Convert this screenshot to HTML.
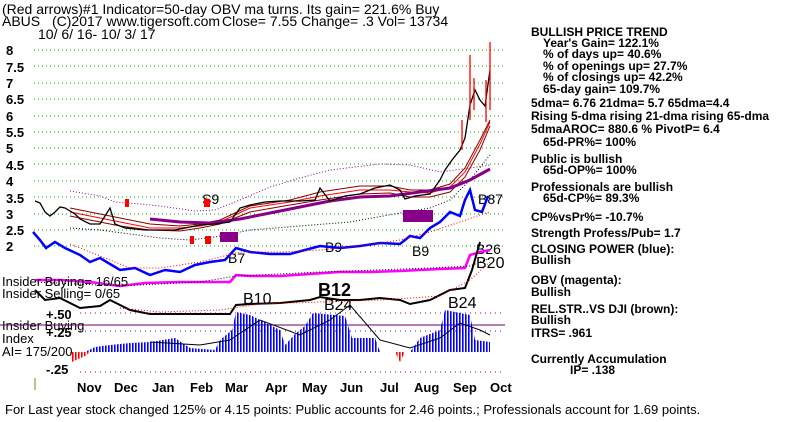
<!DOCTYPE html>
<html><head><meta charset="utf-8"><style>
body{margin:0;background:#fff;width:800px;height:417px;overflow:hidden}
svg text{font-family:"Liberation Sans",sans-serif;font-weight:bold}
</style></head><body>
<svg width="800" height="417" viewBox="0 0 800 417" xmlns="http://www.w3.org/2000/svg">
<defs><pattern id="st" width="3" height="10" patternUnits="userSpaceOnUse"><rect width="1.6" height="10" fill="#00f"/></pattern>
<pattern id="sr" width="3" height="10" patternUnits="userSpaceOnUse"><rect width="1.6" height="10" fill="#f00"/></pattern></defs>
<rect width="800" height="417" fill="#fff"/>
<g font-size="14" fill="#000">
<text x="2" y="14" style="font-weight:normal">(Red arrows)#1 Indicator=50-day OBV ma turns. Its gain= 221.6% Buy</text>
<text x="2" y="26" style="font-weight:normal">ABUS</text>
<text x="52" y="26" style="font-weight:normal">(C)2017 www.tigersoft.com</text>
<text x="222" y="26" style="font-weight:normal">Close=  7.55  Change= .3 Vol= 13734</text>
<text x="38" y="39" style="font-weight:normal">10/ 6/ 16- 10/ 3/ 17</text>
</g>
<g stroke="#0a0" stroke-dasharray="1,3" stroke-width="1">
<line x1="34" x2="505" y1="50" y2="50"/><line x1="34" x2="505" y1="66" y2="66"/><line x1="34" x2="505" y1="83" y2="83"/><line x1="34" x2="505" y1="99" y2="99"/><line x1="34" x2="505" y1="116" y2="116"/><line x1="34" x2="505" y1="132" y2="132"/><line x1="34" x2="505" y1="148" y2="148"/><line x1="34" x2="505" y1="164" y2="164"/><line x1="34" x2="505" y1="181" y2="181"/><line x1="34" x2="505" y1="197" y2="197"/><line x1="34" x2="505" y1="214" y2="214"/><line x1="34" x2="505" y1="230" y2="230"/><line x1="34" x2="505" y1="246" y2="246"/>
</g>
<g font-size="13" fill="#000">
<text x="6" y="55">8</text><text x="6" y="72">7.5</text><text x="6" y="88">7</text><text x="6" y="104">6.5</text><text x="6" y="121">6</text><text x="6" y="137">5.5</text><text x="6" y="153">5</text><text x="6" y="170">4.5</text><text x="6" y="186">4</text><text x="6" y="203">3.5</text><text x="6" y="219">3</text><text x="6" y="235">2.5</text><text x="6" y="251">2</text>
</g>
<polyline fill="none" stroke="#808" stroke-dasharray="1,2" points="70,191 100,196 115,202 140,204 160,206 195,211 215,210 240,200 270,187 300,178 330,170 380,164 410,165 440,172 470,168 490,165"/>
<polyline fill="none" stroke="#000" stroke-dasharray="1,2" points="70,228 100,230 130,234 160,238 190,240 215,237 250,230 300,226 350,222 400,213 430,208 450,200 470,180 490,155"/>
<polyline fill="none" stroke="#800" points="70,208 100,214 120,218 150,224 180,226 200,224 220,220 250,206 290,200 320,192 360,186 390,186 410,190 430,190 450,184 465,168 480,140 490,120"/>
<polyline fill="none" stroke="#f00" points="70,212 100,218 120,222 150,228 180,228 200,226 220,222 250,208 290,202 320,196 360,190 390,190 410,192 430,193 450,187 465,172 480,144 490,122"/>
<polyline fill="none" stroke="#800" points="70,216 100,222 120,226 150,230 180,231 200,228 220,224 250,212 290,205 320,200 360,194 390,193 410,197 430,197 450,192 465,177 480,150 490,126"/>
<polyline fill="none" stroke="#808" stroke-width="3" points="150,219 180,222 210,223 240,219 270,213 300,207 330,201 360,197 390,196 420,192 450,188 470,180 490,169"/>
<polyline fill="none" stroke="#000" stroke-width="1.3" points="35,201 40,203 45,212 50,216 55,212 60,207 65,208 70,211 75,214 80,219 90,224 100,224 110,208 115,224 125,228 135,229 145,230 160,230 175,230 190,227 200,225 215,224 230,222 240,208 250,205 265,202 280,201 300,201 315,200 320,188 330,201 345,196 360,194 375,188 390,185 400,190 405,199 415,196 430,194 440,180 445,170 452,160 460,150 465,138 470,105 475,90 480,100 485,106 490,70"/>
<g stroke="#f00" stroke-width="1.3"><line x1="470" y1="55" x2="470" y2="120"/><line x1="474" y1="78" x2="474" y2="110"/><line x1="490" y1="42" x2="490" y2="110"/><line x1="462" y1="120" x2="462" y2="150"/><line x1="486" y1="80" x2="486" y2="122"/></g>
<g font-size="14" fill="#000">
<text x="202" y="204" style="font-weight:normal">S9</text><text x="478" y="204" style="font-weight:normal">B87</text>
<text x="325" y="252" style="font-weight:normal">B9</text><text x="412" y="256" style="font-weight:normal">B9</text>
<text x="228" y="263" style="font-weight:normal">B7</text><text x="476" y="254" style="font-weight:normal">B26</text>
<text x="476" y="268" font-size="16" style="font-weight:normal">B20</text>
<text x="243" y="304" font-size="16" style="font-weight:normal">B10</text>
<text x="318" y="296" font-size="18">B12</text>
<text x="324" y="310" font-size="16" style="font-weight:normal">B24</text>
<text x="448" y="308" font-size="16" style="font-weight:normal">B24</text>
</g>
<g fill="#f00"><rect x="190" y="236" width="4" height="8"/><rect x="205" y="236" width="6" height="8"/><rect x="204" y="199" width="6" height="8"/><rect x="125" y="199" width="4" height="8"/></g>
<g fill="#808"><rect x="220" y="232" width="18" height="10"/><rect x="403" y="210" width="30" height="12"/></g>
<polyline fill="none" stroke="#00f" stroke-width="2.5" points="33,232 40,240 46,248 55,242 65,248 80,255 90,262 100,258 110,264 120,270 135,268 150,275 165,270 180,272 195,265 210,262 225,260 236,248 250,252 270,254 290,254 305,250 320,246 340,248 360,246 380,243 400,244 410,236 420,238 430,228 440,222 450,212 460,216 465,200 470,190 475,210 482,212 488,196"/>
<polyline fill="none" stroke="#f00" stroke-dasharray="1,2" points="70,244 100,256 130,268 160,268 200,262 240,252 280,252 320,250 360,246 400,240 430,232 460,222 480,215 490,212"/>
<polyline fill="none" stroke="#f0f" stroke-width="2.5" points="35,280 60,280 90,282 120,286 145,283 180,282 230,282 236,275 250,276 280,276 310,274 340,272 370,272 400,271 440,269 465,268 470,255 480,252 490,250"/>
<polyline fill="none" stroke="#000" stroke-dasharray="1,2" points="35,282 120,286 200,282 236,276 320,272 430,268 470,266 490,258"/>
<polyline fill="none" stroke="#000" stroke-width="2" points="35,290 45,300 60,298 80,308 100,306 110,300 130,310 150,314 170,314 190,314 210,314 230,314 236,305 250,304 280,303 310,300 320,297 340,300 360,300 380,298 400,300 410,304 430,300 450,290 465,288 472,270 480,242"/>
<polyline fill="none" stroke="#f00" stroke-dasharray="1,2" points="120,308 160,312 220,310 260,304 320,302 380,300 440,296 470,280 490,262"/>
<g font-size="13" fill="#000">
<text x="2" y="286" style="font-weight:normal">Insider Buying= 16/65</text>
<text x="2" y="298" style="font-weight:normal">Insider Selling= 0/65</text>
<text x="2" y="330" style="font-weight:normal">Insider Buying</text>
<text x="2" y="343" style="font-weight:normal">Index</text>
<text x="2" y="356" style="font-weight:normal">AI= 175/200</text>
<text x="46" y="319">+.50</text><text x="46" y="337">+.25</text><text x="46" y="374">-.25</text>
</g>
<g stroke="#808" stroke-dasharray="1,4"><line x1="80" x2="505" y1="313" y2="313"/><line x1="80" x2="505" y1="331" y2="331"/><line x1="80" x2="505" y1="372" y2="372"/></g>
<line x1="0" x2="505" y1="325" y2="325" stroke="#606"/>
<path fill="url(#st)" d="M85,352 L95,347 L110,345 L130,343 L150,342 L175,338 L190,348 L215,350 L220,340 L232,330 L236,312 L250,315 L270,325 L280,330 L285,345 L295,334 L305,326 L313,313 L345,316 L352,338 L375,338 L380,352 L410,352 L420,338 L440,330 L445,310 L470,315 L475,340 L490,342 L490,352 Z"/>
<path fill="url(#sr)" d="M70,352 L72,362 L85,356 L90,352 Z M395,352 L400,362 L405,352 Z"/>
<polyline fill="none" stroke="#000" points="150,342 200,345 230,340 260,320 300,335 330,320 350,305 380,340 410,348 440,338 460,323 480,330 490,335"/>
<line x1="35" x2="35" y1="378" y2="390" stroke="#880"/>
<g font-size="13" fill="#000">
<text x="77" y="392">Nov</text><text x="114" y="392">Dec</text><text x="152" y="392">Jan</text><text x="190" y="392">Feb</text><text x="225" y="392">Mar</text><text x="265" y="392">Apr</text><text x="302" y="392">May</text><text x="340" y="392">Jun</text><text x="380" y="392">Jul</text><text x="414" y="392">Aug</text><text x="453" y="392">Sep</text><text x="490" y="392">Oct</text>
</g>
<text x="5" y="414" font-size="13" style="font-weight:normal">For Last year stock changed  125% or  4.15 points:  Public accounts for  2.46 points.;  Professionals account for  1.69 points.</text>
<g font-size="12" fill="#000">
<text x="531" y="36">BULLISH PRICE TREND</text>
<text x="543" y="47">Year's Gain= 122.1%</text>
<text x="543" y="58">% of days up= 40.6%</text>
<text x="543" y="70">% of openings up= 27.7%</text>
<text x="543" y="81">% of closings up= 42.2%</text>
<text x="543" y="93">65-day gain= 109.7%</text>
<text x="531" y="107">5dma= 6.76 21dma= 5.7 65dma=4.4</text>
<text x="531" y="120">Rising 5-dma rising 21-dma rising 65-dma</text>
<text x="531" y="133">5dmaAROC= 880.6 %  PivotP= 6.4</text>
<text x="543" y="146">65d-PR%= 100%</text>
<text x="531" y="163">Public is bullish</text>
<text x="543" y="174">65d-OP%= 100%</text>
<text x="531" y="191">Professionals are bullish</text>
<text x="543" y="202">65d-CP%= 89.3%</text>
<text x="531" y="221">CP%vsPr%= -10.7%</text>
<text x="531" y="237">Strength Profess/Pub= 1.7</text>
<text x="531" y="253">CLOSING POWER (blue):</text>
<text x="531" y="264">Bullish</text>
<text x="531" y="284">OBV (magenta):</text>
<text x="531" y="296">Bullish</text>
<text x="531" y="313">REL.STR..VS DJI (brown):</text>
<text x="531" y="324">Bullish</text>
<text x="531" y="337">ITRS= .961</text>
<text x="531" y="363">Currently Accumulation</text>
<text x="570" y="374">IP=  .138</text>
</g>
</svg>
</body></html>
